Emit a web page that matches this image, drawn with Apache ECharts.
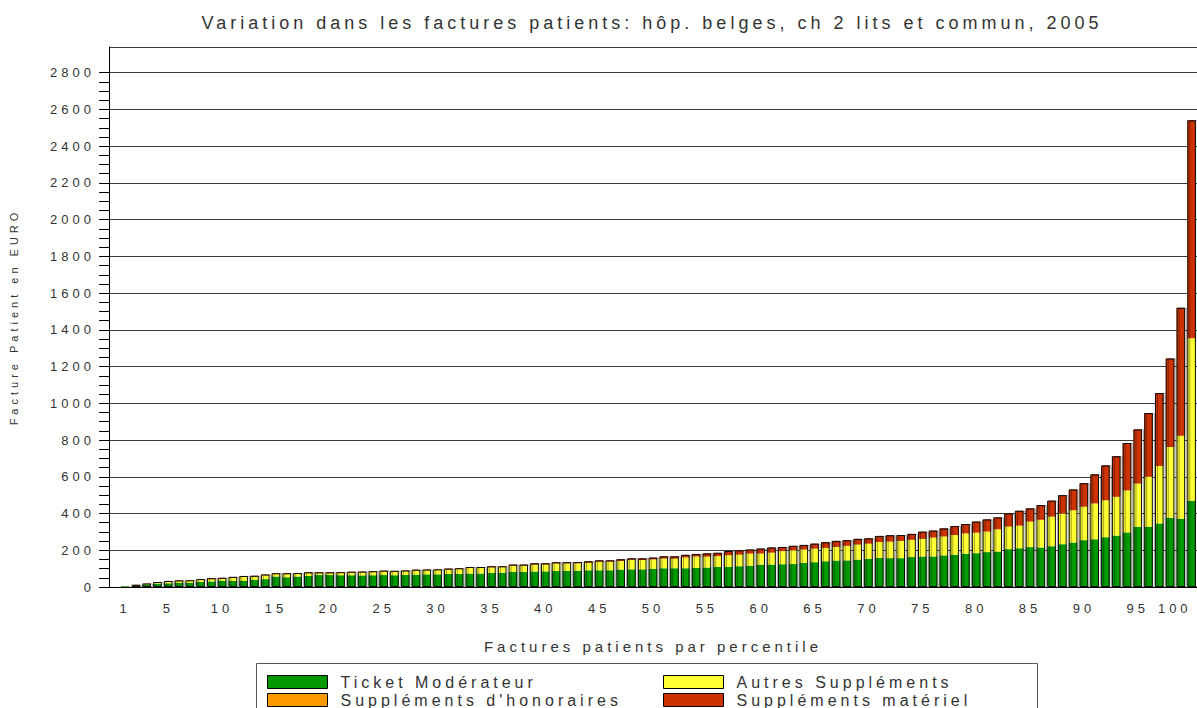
<!DOCTYPE html>
<html>
<head>
<meta charset="utf-8">
<script src="https://cdn.jsdelivr.net/npm/echarts@6/dist/echarts.min.js"></script>
<style>
html,body{margin:0;padding:0;background:#fff;}
#chart{width:1197px;height:708px;}
#chart svg text{letter-spacing:4px;}
</style>
</head>
<body>
<div id="chart"></div>
<script>
// ---- Data ----
const percentiles = [
  '1','2','3','4','5','6','7','8','9','10',
  '11','12','13','14','15','16','17','18','19','20',
  '21','22','23','24','25','26','27','28','29','30',
  '31','32','33','34','35','36','37','38','39','40',
  '41','42','43','44','45','46','47','48','49','50',
  '51','52','53','54','55','56','57','58','59','60',
  '61','62','63','64','65','66','67','68','69','70',
  '71','72','73','74','75','76','77','78','79','80',
  '81','82','83','84','85','86','87','88','89','90',
  '91','92','93','94','95','96','97','98','99','100'
];
const shownLabels = ['1','5','10','15','20','25','30','35','40','45','50','55','60','65','70','75','80','85','90','95','100'];

const ticketModerateur = [
  4, 9, 14, 18, 20, 22, 22, 28, 30, 34,
  33, 33, 40, 43, 57, 53, 57, 60, 65, 65,
  64, 64, 63, 64, 65, 64, 66, 67, 69, 69,
  71, 71, 73, 73, 76, 78, 82, 82, 84, 85,
  87, 87, 89, 91, 91, 91, 95, 96, 96, 98,
  102, 102, 102, 104, 106, 109, 109, 113, 116, 122,
  122, 124, 125, 131, 135, 140, 144, 145, 149, 153,
  158, 157, 157, 163, 166, 166, 172, 175, 181, 184,
  190, 193, 206, 211, 217, 215, 222, 233, 242, 255,
  260, 271, 280, 297, 328, 328, 346, 377, 371, 470
];
const autresSupplements = [
  0, 2, 3, 7, 10, 11, 12, 11, 13, 11,
  18, 23, 17, 21, 15, 17, 16, 16, 11, 11,
  13, 15, 17, 18, 19, 20, 20, 23, 23, 23,
  24, 27, 31, 31, 31, 30, 34, 34, 38, 38,
  41, 42, 40, 41, 46, 47, 47, 52, 51, 52,
  53, 52, 59, 62, 59, 59, 64, 63, 66, 60,
  65, 71, 75, 73, 74, 73, 74, 79, 82, 83,
  87, 90, 94, 94, 96, 103, 103, 108, 111, 112,
  112, 121, 123, 123, 139, 151, 161, 167, 176, 182,
  195, 201, 211, 229, 235, 272, 313, 385, 452, 884
];
const supplementsHonoraires = [
  0, 0, 0, 0, 0, 0, 0, 0, 0, 1,
  0, 0, 0, 0, 0, 1, 0, 0, 0, 0,
  0, 0, 0, 0, 1, 0, 0, 0, 0, 1,
  0, 0, 0, 0, 0, 0, 0, 0, 0, 0,
  0, 0, 0, 0, 0, 0, 0, 0, 0, 0,
  0, 0, 0, 0, 0, 0, 0, 0, 0, 0,
  0, 0, 0, 0, 0, 0, 0, 0, 0, 0,
  0, 0, 0, 0, 0, 0, 0, 0, 0, 0,
  0, 0, 0, 0, 0, 0, 0, 0, 0, 0,
  0, 0, 0, 0, 0, 0, 0, 0, 0, 0
];
const supplementsMateriel = [
  1, 1, 2, 2, 3, 3, 3, 4, 5, 4,
  4, 4, 4, 4, 3, 4, 3, 4, 4, 4,
  4, 4, 4, 4, 4, 4, 4, 4, 3, 3,
  5, 4, 5, 5, 6, 5, 6, 6, 7, 6,
  7, 6, 7, 8, 8, 7, 9, 8, 9, 10,
  12, 13, 14, 14, 18, 18, 23, 24, 22, 27,
  28, 23, 24, 25, 27, 31, 33, 31, 31, 29,
  33, 35, 32, 32, 39, 38, 44, 49, 51, 60,
  66, 65, 72, 81, 72, 80, 87, 100, 113, 128,
  158, 190, 221, 258, 295, 347, 397, 482, 697, 1187
];
const yTickLabels = [0, 200, 400, 600, 800, 1000, 1200, 1400, 1600, 1800, 2000, 2200, 2400, 2600, 2800];

const seriesNames = ['Ticket Modérateur', 'Autres Suppléments', "Suppléments d'honoraires", 'Suppléments matériel'];
const seriesColors = ['#009900', '#FFFF33', '#FF9900', '#CC3300'];

// ---- Build chart ----
const FONT = "'Liberation Sans', Arial, sans-serif";
const TXT = '#333';
// leading empty slot so that percentile 1 sits ~1.5 slots from the axis, as in the reference
const categories = [''].concat(percentiles);
const pad = arr => [null].concat(arr);
const totals = percentiles.map((_, i) => ticketModerateur[i] + autresSupplements[i] + supplementsHonoraires[i] + supplementsMateriel[i]);

const minorTickValues = [];
for (let v = 0; v <= 2800; v += 50) minorTickValues.push(v);

const stackData = [ticketModerateur, autresSupplements, supplementsHonoraires, supplementsMateriel];
const series = stackData.map((d, k) => ({
  name: seriesNames[k],
  type: 'bar',
  stack: 'total',
  data: pad(d),
  barCategoryGap: '20%',
  barGap: '-100%',
  itemStyle: { color: seriesColors[k] },
  emphasis: { disabled: true },
  z: 2
}));
series.push({
  name: 'outline',
  type: 'bar',
  data: pad(totals),
  barCategoryGap: '20%',
  barGap: '-100%',
  itemStyle: {
    color: 'rgba(0,0,0,0)',
    borderColor: '#111',
    borderWidth: 1,
    shadowColor: 'rgba(0,0,0,0.35)',
    shadowOffsetX: 2,
    shadowOffsetY: 0,
    shadowBlur: 0
  },
  emphasis: { disabled: true },
  silent: true,
  z: 3
});

const legendCommon = {
  orient: 'vertical',
  top: 674,
  itemWidth: 60,
  itemHeight: 13,
  itemGap: 2,
  padding: 0,
  icon: 'rect',
  selectedMode: false,
  itemStyle: { borderColor: '#000', borderWidth: 1 },
  textStyle: { fontFamily: FONT, fontSize: 16, color: TXT, lineHeight: 13, padding: [0, 0, 0, 8] }
};

const option = {
  animation: false,
  backgroundColor: '#fff',
  textStyle: { fontFamily: FONT, color: TXT },
  title: {
    text: 'Variation dans les factures patients: hôp. belges, ch 2 lits et commun, 2005',
    left: 652,
    top: 14,
    textAlign: 'center',
    padding: 0,
    textStyle: { fontFamily: FONT, fontSize: 18, fontWeight: 'normal', color: TXT }
  },
  legend: [
    Object.assign({}, legendCommon, { left: 267, data: [seriesNames[0], seriesNames[2]] }),
    Object.assign({}, legendCommon, { left: 663, data: [seriesNames[1], seriesNames[3]] })
  ],
  graphic: [{
    type: 'rect',
    left: 254,
    top: 661,
    shape: { width: 781, height: 60 },
    style: { fill: 'none', stroke: '#555', lineWidth: 1 },
    silent: true,
    z: -1
  }],
  grid: { left: 107, right: 0, top: 47, bottom: 121, containLabel: false },
  xAxis: {
    type: 'category',
    data: categories,
    name: 'Factures patients par percentile',
    nameLocation: 'middle',
    nameGap: 52,
    nameTextStyle: { fontFamily: FONT, fontSize: 15, color: TXT },
    axisLine: { lineStyle: { color: '#000', width: 1 } },
    axisTick: { show: false },
    axisLabel: {
      interval: (idx, val) => shownLabels.indexOf(val) >= 0,
      alignMaxLabel: 'right',
      margin: 15,
      fontFamily: FONT,
      fontSize: 13,
      color: TXT,
      hideOverlap: false
    },
    splitLine: { show: false }
  },
  yAxis: [{
    type: 'value',
    min: 0,
    max: 2940,
    interval: 200,
    name: 'Facture Patient en EURO',
    nameLocation: 'middle',
    nameGap: 90,
    nameRotate: 90,
    nameTextStyle: { fontFamily: FONT, fontSize: 11, color: TXT },
    axisLine: { show: true, lineStyle: { color: '#000', width: 1 } },
    axisTick: { show: false },
    axisLabel: {
      formatter: v => (yTickLabels.indexOf(v) >= 0 ? String(v) : ''),
      margin: 14,
      fontFamily: FONT,
      fontSize: 13,
      color: TXT
    },
    splitLine: { show: true, lineStyle: { color: '#3a3a3a', width: 1 } }
  }, {
    type: 'value',
    min: 0,
    max: 2940,
    interval: 200,
    position: 'left',
    offset: 0,
    axisLine: { show: false },
    axisLabel: { show: false },
    splitLine: { show: false },
    axisTick: { show: true, length: 10, customValues: minorTickValues, lineStyle: { color: '#000', width: 1 } }
  }],
  series: series
};

const chart = echarts.init(document.getElementById('chart'), null, { renderer: 'svg' });
chart.setOption(option);
</script>
</body>
</html>
